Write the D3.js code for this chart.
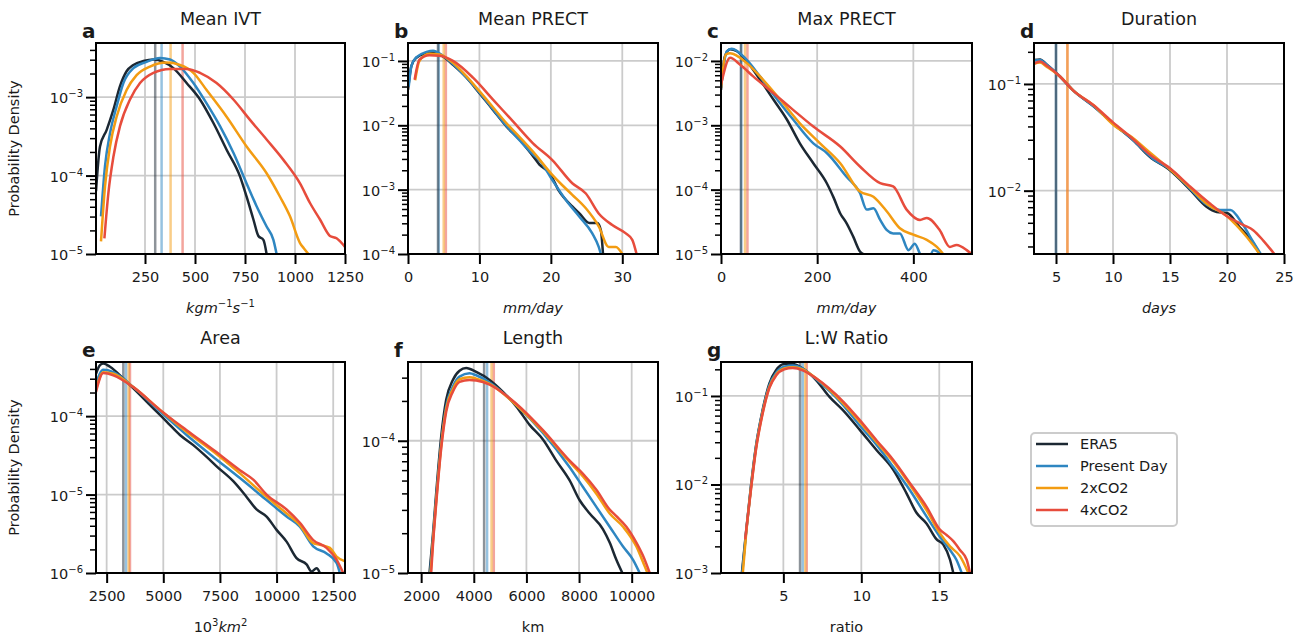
<!DOCTYPE html>
<html lang="en">
<head>
<meta charset="UTF-8">
<title>AR characteristics</title>
<script src="https://cdnjs.cloudflare.com/ajax/libs/d3/7.8.5/d3.min.js"></script>
<style>
  body { margin: 0; background: #fff; font-family: "DejaVu Sans", sans-serif; }
  svg text { fill: #1a1a1a; }
</style>
</head>
<body>
<svg width="1301" height="639"></svg>
<script>
const series = ["ERA5", "Present Day", "2xCO2", "4xCO2"];
const colors = ["#1c2833", "#2e86c1", "#f39c12", "#e74c3c"];

// curves: [x, log10(probability density)]
const ivtEra5 = [[5,-4.20],[25,-3.63],[58,-3.42],[92,-3.16],[125,-2.86],[158,-2.67],[192,-2.59],[242,-2.54],[292,-2.52],[342,-2.55],[392,-2.63],[458,-2.82],[525,-3.03],[592,-3.33],[658,-3.67],[725,-4.01],[758,-4.27],[792,-4.56],[817,-4.77],[842,-4.82],[858,-5.0]];
const ivtPd   = [[30,-4.52],[50,-3.88],[75,-3.46],[108,-3.12],[142,-2.82],[192,-2.63],[258,-2.55],[325,-2.50],[375,-2.52],[425,-2.61],[492,-2.82],[558,-3.08],[625,-3.37],[692,-3.71],[758,-4.10],[808,-4.39],[858,-4.65],[892,-4.82],[908,-5.0]];
const ivt2x   = [[30,-4.84],[50,-4.14],[75,-3.63],[108,-3.25],[158,-2.91],[208,-2.72],[275,-2.61],[358,-2.56],[425,-2.59],[492,-2.69],[558,-2.91],[658,-3.25],[758,-3.63],[858,-3.97],[925,-4.27],[975,-4.52],[1025,-4.86],[1045,-4.93],[1067,-5.0]];
const ivt4x   = [[47,-4.80],[67,-4.22],[92,-3.76],[125,-3.37],[175,-3.03],[225,-2.82],[292,-2.69],[375,-2.64],[458,-2.64],[525,-2.69],[608,-2.82],[692,-3.03],[775,-3.29],[858,-3.54],[942,-3.80],[1025,-4.10],[1075,-4.35],[1125,-4.56],[1175,-4.77],[1208,-4.80],[1250,-4.91]];
const ivtMeans = [301, 333, 378, 438];

const mprEra5 = [[0,-1.45],[0.47,-1.08],[1.17,-0.95],[2.57,-0.88],[3.5,-0.86],[4.9,-0.93],[6.3,-1.06],[8.2,-1.26],[10,-1.50],[11.9,-1.76],[13.8,-2.02],[15.6,-2.22],[17.5,-2.48],[18.4,-2.61],[19.8,-2.74],[21.2,-3.03],[23,-3.26],[24,-3.37],[25.4,-3.52],[26.5,-3.52],[27,-3.63],[27.3,-4.0]];
const mprPd   = [[0.1,-1.40],[0.5,-1.07],[1.2,-0.94],[2.6,-0.86],[3.5,-0.84],[4.9,-0.92],[6.3,-1.05],[8.2,-1.26],[10,-1.49],[11.9,-1.75],[13.8,-2.01],[15.6,-2.23],[17.5,-2.45],[18.4,-2.54],[20.2,-2.85],[22.1,-3.16],[24,-3.42],[25.8,-3.68],[26.7,-3.89],[27,-4.0]];
const mpr2x   = [[1.0,-1.30],[1.6,-1.0],[3.0,-0.89],[4.4,-0.90],[6.3,-1.03],[8.2,-1.24],[10,-1.47],[11.9,-1.72],[13.8,-1.97],[15.6,-2.18],[17.5,-2.41],[20.2,-2.77],[21.5,-2.92],[23,-3.08],[24.9,-3.29],[26.7,-3.57],[28.1,-3.89],[29.1,-3.89],[30,-4.0]];
const mpr4x   = [[0.93,-1.29],[1.6,-0.98],[3.0,-0.91],[4.4,-0.92],[6.3,-1.0],[9.1,-1.26],[11.9,-1.60],[14.7,-1.94],[17.5,-2.28],[20.2,-2.54],[23,-2.90],[24.9,-3.06],[26.7,-3.37],[28.6,-3.55],[30.5,-3.68],[31.4,-3.78],[32,-4.0]];
const mprMeans = [4.2, 4.3, 5.0, 5.3];

const xprEra5 = [[0,-2.45],[8,-1.93],[19,-1.82],[33,-1.85],[53,-2.0],[81,-2.29],[109,-2.60],[137,-2.91],[164,-3.28],[192,-3.59],[220,-3.90],[234,-4.12],[248,-4.37],[261,-4.52],[275,-4.73],[289,-4.96],[296,-5.0]];
const xprPd   = [[0,-2.42],[12,-1.85],[22,-1.81],[53,-1.98],[81,-2.24],[109,-2.52],[150,-2.91],[192,-3.28],[220,-3.43],[261,-3.80],[289,-4.05],[303,-4.31],[317,-4.29],[331,-4.47],[345,-4.63],[358,-4.68],[372,-4.68],[390,-4.94],[403,-4.84],[414,-5.0],[428,-5.15],[442,-4.94],[452,-4.97],[462,-5.05]];
const xpr2x   = [[0,-2.42],[10,-1.90],[19,-1.88],[53,-2.03],[81,-2.24],[123,-2.60],[164,-2.97],[206,-3.28],[248,-3.59],[289,-4.03],[317,-4.11],[345,-4.34],[372,-4.60],[400,-4.70],[428,-4.78],[449,-4.89],[462,-5.0]];
const xpr4x   = [[0,-2.37],[19,-1.95],[40,-2.06],[67,-2.24],[109,-2.50],[150,-2.76],[192,-3.02],[248,-3.33],[289,-3.64],[331,-3.90],[358,-3.95],[386,-4.31],[414,-4.47],[428,-4.44],[455,-4.63],[476,-4.89],[490,-4.86],[511,-4.94],[521,-5.0]];
const xprMeans = [41.5, 42, 50, 55];

const durEra5 = [[3.07,-0.775],[3.6,-0.77],[4.2,-0.82],[5.35,-0.93],[6.5,-1.06],[8.3,-1.21],[10,-1.37],[11.8,-1.53],[13.2,-1.68],[15,-1.81],[16.75,-1.99],[18.2,-2.15],[19.1,-2.20],[20,-2.21],[21.1,-2.34],[22.3,-2.49],[22.9,-2.60]];
const durPd   = [[3.07,-0.78],[3.6,-0.775],[4.2,-0.82],[5.35,-0.93],[6.5,-1.06],[8.3,-1.21],[10,-1.37],[11.8,-1.53],[13.5,-1.70],[15,-1.80],[16.75,-1.98],[18.2,-2.13],[19.4,-2.18],[20.3,-2.18],[21.4,-2.32],[22.3,-2.48],[23,-2.60]];
const dur2x   = [[3.07,-0.81],[3.6,-0.80],[4.2,-0.84],[5.35,-0.93],[6.5,-1.06],[8.3,-1.20],[10,-1.38],[11.8,-1.51],[13.0,-1.62],[15,-1.80],[16.75,-1.97],[18.2,-2.12],[20,-2.24],[21.7,-2.43],[22.9,-2.60]];
const dur4x   = [[3.07,-0.81],[3.6,-0.79],[4.2,-0.83],[5.35,-0.93],[6.5,-1.06],[8.3,-1.20],[10,-1.36],[11.8,-1.52],[13.2,-1.66],[15,-1.79],[16.75,-1.96],[18.5,-2.12],[20,-2.24],[21.4,-2.32],[22.3,-2.37],[23.2,-2.47],[24.2,-2.60]];
const durMeans = [5, 5, 6, 6];

const areaEra5 = [[2030,-3.46],[2206,-3.35],[2353,-3.33],[2647,-3.37],[3235,-3.52],[3971,-3.73],[4559,-3.90],[5147,-4.07],[5735,-4.24],[6324,-4.37],[6912,-4.52],[7353,-4.64],[8088,-4.83],[8676,-5.03],[9118,-5.19],[9559,-5.28],[10000,-5.45],[10441,-5.60],[10882,-5.81],[11324,-5.89],[11544,-5.98],[11765,-5.94],[11912,-6.0]];
const areaPd   = [[2030,-3.58],[2353,-3.41],[2794,-3.44],[3676,-3.63],[4853,-3.94],[6029,-4.24],[7206,-4.52],[8382,-4.79],[9559,-5.07],[10441,-5.28],[11029,-5.41],[11618,-5.66],[12206,-5.75],[12647,-5.87],[12794,-6.0]];
const area2x   = [[2030,-3.66],[2353,-3.44],[2794,-3.46],[3676,-3.63],[4853,-3.92],[6029,-4.20],[7206,-4.45],[8382,-4.73],[9559,-5.03],[10441,-5.24],[11029,-5.39],[11618,-5.62],[11912,-5.64],[12353,-5.68],[12647,-5.79],[13020,-5.85]];
const area4x   = [[2030,-3.69],[2353,-3.45],[2794,-3.48],[3676,-3.63],[4853,-3.92],[6029,-4.18],[7206,-4.43],[8382,-4.69],[8971,-4.81],[9559,-5.00],[10441,-5.19],[11029,-5.36],[11618,-5.58],[12206,-5.68],[12647,-5.83],[12941,-6.0]];
const areaMeans = [3236, 3353, 3470, 3530];

const lenEra5 = [[2317,-5.0],[2444,-4.72],[2570,-4.40],[2761,-3.97],[2951,-3.69],[3205,-3.54],[3458,-3.47],[3712,-3.45],[4092,-3.48],[4600,-3.54],[5107,-3.63],[5614,-3.74],[6121,-3.88],[6628,-3.99],[7135,-4.15],[7643,-4.30],[8023,-4.45],[8404,-4.55],[8911,-4.67],[9164,-4.77],[9418,-4.90],[9646,-5.0]];
const lenPd   = [[2340,-5.0],[2444,-4.75],[2570,-4.44],[2761,-4.02],[2951,-3.74],[3205,-3.59],[3458,-3.515],[3839,-3.49],[4092,-3.505],[4600,-3.56],[5614,-3.73],[6628,-3.94],[7643,-4.20],[8150,-4.35],[8657,-4.50],[9164,-4.65],[9671,-4.80],[10052,-4.90],[10305,-5.0]];
const len2x   = [[2360,-5.0],[2444,-4.77],[2570,-4.46],[2761,-4.04],[2951,-3.76],[3205,-3.61],[3458,-3.535],[3839,-3.52],[4092,-3.53],[4600,-3.57],[5614,-3.73],[6628,-3.93],[7643,-4.16],[8150,-4.27],[8657,-4.40],[9164,-4.55],[9671,-4.65],[10178,-4.80],[10496,-4.95],[10600,-5.0]];
const len4x   = [[2380,-5.0],[2444,-4.80],[2570,-4.48],[2761,-4.06],[2951,-3.78],[3205,-3.63],[3458,-3.555],[3839,-3.54],[4092,-3.545],[4600,-3.575],[5614,-3.72],[6628,-3.92],[7643,-4.15],[8150,-4.25],[8657,-4.37],[9164,-4.52],[9418,-4.57],[9798,-4.65],[10178,-4.77],[10432,-4.87],[10686,-5.0]];
const lenMeans = [4392, 4506, 4675, 4760];

const lwEra5 = [[2.34,-3.0],[2.6,-2.55],[2.92,-2.02],[3.24,-1.57],[3.67,-1.16],[4.1,-0.86],[4.53,-0.71],[5.06,-0.64],[5.6,-0.64],[6.24,-0.69],[7.1,-0.82],[7.96,-1.01],[8.82,-1.16],[9.89,-1.38],[10.97,-1.61],[12.04,-1.83],[12.9,-2.10],[13.54,-2.32],[14.18,-2.44],[14.83,-2.62],[15.26,-2.68],[15.69,-2.85],[15.9,-3.0]];
const lwPd   = [[2.36,-3.0],[2.6,-2.56],[2.92,-2.03],[3.24,-1.58],[3.67,-1.17],[4.1,-0.88],[4.53,-0.74],[5.06,-0.67],[5.6,-0.655],[6.24,-0.69],[7.1,-0.81],[8.82,-1.10],[9.89,-1.33],[10.97,-1.55],[12.04,-1.80],[13.1,-2.06],[14.18,-2.36],[15.04,-2.59],[15.69,-2.74],[16.1,-2.85],[16.44,-3.0]];
const lw2x   = [[2.4,-3.0],[2.6,-2.58],[2.92,-2.05],[3.24,-1.60],[3.67,-1.19],[4.1,-0.90],[4.53,-0.76],[5.06,-0.69],[5.6,-0.675],[6.24,-0.70],[7.1,-0.80],[8.82,-1.08],[9.89,-1.29],[10.97,-1.52],[12.04,-1.74],[13.1,-2.0],[14.18,-2.29],[15.04,-2.55],[15.69,-2.70],[16.33,-2.81],[16.87,-3.0]];
const lw4x   = [[2.55,-2.62],[2.92,-2.06],[3.24,-1.61],[3.67,-1.20],[4.1,-0.91],[4.53,-0.77],[5.06,-0.70],[5.6,-0.685],[6.24,-0.71],[7.1,-0.80],[8.82,-1.06],[9.89,-1.27],[10.97,-1.50],[12.04,-1.72],[13.1,-1.98],[14.18,-2.25],[15.04,-2.51],[15.47,-2.57],[15.9,-2.64],[16.33,-2.74],[16.76,-2.85],[16.97,-3.0]];
const lwMeans = [6.07, 6.24, 6.4, 6.5];

// x-axis label pieces (i = italic, s = superscript)
const ivtLabel  = [["kgm","i"],["−1","s"],["s","i"],["−1","s"]];
const mmLabel   = [["mm/day","i"]];
const daysLabel = [["days","i"]];
const areaLabel = [["10",""],["3","s"],["km","i"],["2","s"]];
const kmLabel   = [["km",""]];
const ratioLabel = [["ratio",""]];

const panels = [
  {letter:"a", title:"Mean IVT",   left:96,   top:43,  w:249, xDom:[5,1250],    xTicks:[250,500,750,1000,1250], yDom:[1e-5,4.9e-3],  means:ivtMeans, curves:[ivtEra5,ivtPd,ivt2x,ivt4x], xlabel:ivtLabel, ylab:true},
  {letter:"b", title:"Mean PRECT", left:408,  top:43,  w:250, xDom:[0,35],      xTicks:[0,10,20,30],           yDom:[1e-4,0.19],    means:mprMeans, curves:[mprEra5,mprPd,mpr2x,mpr4x], xlabel:mmLabel},
  {letter:"c", title:"Max PRECT",  left:721,  top:43,  w:251, xDom:[0,522],     xTicks:[0,200,400],            yDom:[1e-5,0.019],   means:xprMeans, curves:[xprEra5,xprPd,xpr2x,xpr4x], xlabel:mmLabel},
  {letter:"d", title:"Duration",   left:1034, top:43,  w:250, xDom:[3.07,25],   xTicks:[5,10,15,20,25],        yDom:[2.55e-3,0.242],means:durMeans, curves:[durEra5,durPd,dur2x,dur4x], xlabel:daysLabel},
  {letter:"e", title:"Area",       left:96,   top:362, w:249, xDom:[2030,13020],xTicks:[2500,5000,7500,10000,12500], yDom:[1e-6,4.9e-4], means:areaMeans, curves:[areaEra5,areaPd,area2x,area4x], xlabel:areaLabel, ylab:true},
  {letter:"f", title:"Length",     left:408,  top:362, w:250, xDom:[1500,11000],xTicks:[2000,4000,6000,8000,10000], yDom:[1e-5,3.94e-4], means:lenMeans, curves:[lenEra5,lenPd,len2x,len4x], xlabel:kmLabel},
  {letter:"g", title:"L:W Ratio",  left:721,  top:362, w:251, xDom:[1,17.1],    xTicks:[5,10,15],              yDom:[1e-3,0.242],   means:lwMeans, curves:[lwEra5,lwPd,lw2x,lw4x], xlabel:ratioLabel}
];
const plotH = 211;

const svg = d3.select("svg");

function addPieces(text, pieces) {
  let up = false;
  pieces.forEach(([t, st]) => {
    const ts = text.append("tspan").text(t);
    if (st === "s") {
      ts.attr("font-size", "10px").attr("dy", up ? 0 : -6);
      up = true;
    } else {
      if (up) ts.attr("dy", 6);
      up = false;
      if (st === "i") ts.attr("font-style", "italic");
    }
  });
}

panels.forEach((p, pi) => {
  const h = plotH;
  const x = d3.scaleLinear().domain(p.xDom).range([0, p.w]);
  const y = d3.scaleLog().domain(p.yDom).range([h, 0]);
  const g = svg.append("g").attr("transform", `translate(${p.left},${p.top})`);

  g.append("clipPath").attr("id", "clip" + pi)
    .append("rect").attr("width", p.w).attr("height", h);

  const lo = Math.floor(Math.log10(p.yDom[0])), hi = Math.ceil(Math.log10(p.yDom[1]));
  const major = [], minor = [];
  for (let k = lo; k <= hi; k++) {
    const v = Math.pow(10, k);
    if (v >= p.yDom[0] * 0.999 && v <= p.yDom[1]) major.push(v);
    for (let m = 2; m <= 9; m++) {
      const mv = m * v;
      if (mv >= p.yDom[0] && mv <= p.yDom[1]) minor.push(mv);
    }
  }

  // grid
  const grid = g.append("g").attr("stroke", "#cbcbcb").attr("stroke-width", 1.8);
  p.xTicks.forEach(t => grid.append("line").attr("x1", x(t)).attr("x2", x(t)).attr("y1", 0).attr("y2", h));
  major.forEach(t => grid.append("line").attr("x1", 0).attr("x2", p.w).attr("y1", y(t)).attr("y2", y(t)));

  const plot = g.append("g").attr("clip-path", `url(#clip${pi})`);

  // mean lines, ERA5 drawn last so it sits on top
  p.means.map((m, i) => [m, i]).reverse().forEach(([m, i]) => {
    plot.append("line")
      .attr("x1", x(m)).attr("x2", x(m)).attr("y1", 0).attr("y2", h)
      .attr("stroke", colors[i]).attr("stroke-width", 2.5).attr("stroke-opacity", 0.5);
  });

  const line = d3.line()
    .x(d => x(d[0]))
    .y(d => y(Math.pow(10, d[1])))
    .curve(d3.curveMonotoneX);

  p.curves.forEach((c, i) => {
    plot.append("path").datum(c)
      .attr("d", line)
      .attr("fill", "none")
      .attr("stroke", colors[i])
      .attr("stroke-width", 2.5)
      .attr("stroke-linejoin", "round");
  });

  // axes
  const xAxis = g.append("g").attr("transform", `translate(0,${h})`)
    .call(d3.axisBottom(x).tickValues(p.xTicks).tickSize(10).tickPadding(8).tickSizeOuter(0).tickFormat(d3.format("d")));
  xAxis.select(".domain").remove();
  xAxis.selectAll("line").attr("stroke", "#000").attr("stroke-width", 2);
  xAxis.selectAll("text").attr("font-size", "14.5px").attr("font-family", "DejaVu Sans").attr("fill", "#1a1a1a");

  const yMinor = g.append("g")
    .call(d3.axisLeft(y).tickValues(minor).tickSize(6).tickFormat(""));
  yMinor.select(".domain").remove();
  yMinor.selectAll("line").attr("stroke", "#000").attr("stroke-width", 1.5);

  const yMajor = g.append("g")
    .call(d3.axisLeft(y).tickValues(major).tickSize(10).tickFormat(""));
  yMajor.select(".domain").remove();
  yMajor.selectAll("line").attr("stroke", "#000").attr("stroke-width", 2);

  major.forEach(v => {
    const t = g.append("text")
      .attr("x", -13).attr("y", y(v) + 6)
      .attr("text-anchor", "end").attr("font-size", "14.5px");
    addPieces(t, [["10", ""], ["−" + Math.round(-Math.log10(v)), "s"]]);
  });

  // frame
  g.append("rect").attr("width", p.w).attr("height", h)
    .attr("fill", "none").attr("stroke", "#000").attr("stroke-width", 2);

  // title, letter
  g.append("text").attr("x", p.w / 2).attr("y", -18)
    .attr("text-anchor", "middle").attr("font-size", "17.5px").text(p.title);
  g.append("text").attr("x", -14).attr("y", -5)
    .attr("font-size", "20px").attr("font-weight", "bold").text(p.letter);

  const xl = g.append("text").attr("x", p.w / 2).attr("y", h + 59)
    .attr("text-anchor", "middle").attr("font-size", "14.5px");
  addPieces(xl, p.xlabel);

  if (p.ylab) {
    g.append("text")
      .attr("transform", `translate(-77,${h / 2}) rotate(-90)`)
      .attr("text-anchor", "middle").attr("font-size", "14.5px")
      .text("Probability Density");
  }
});

// legend
const leg = svg.append("g").attr("transform", "translate(1031,433)");
leg.append("rect").attr("width", 146).attr("height", 93).attr("rx", 4)
  .attr("fill", "#fff").attr("stroke", "#cccccc").attr("stroke-width", 2);
series.forEach((s, i) => {
  const yy = 11 + i * 22;
  leg.append("line").attr("x1", 5).attr("x2", 37).attr("y1", yy).attr("y2", yy)
    .attr("stroke", colors[i]).attr("stroke-width", 2.5);
  leg.append("text").attr("x", 49).attr("y", yy + 5).attr("font-size", "14.5px").text(s);
});
</script>
</body>
</html>
